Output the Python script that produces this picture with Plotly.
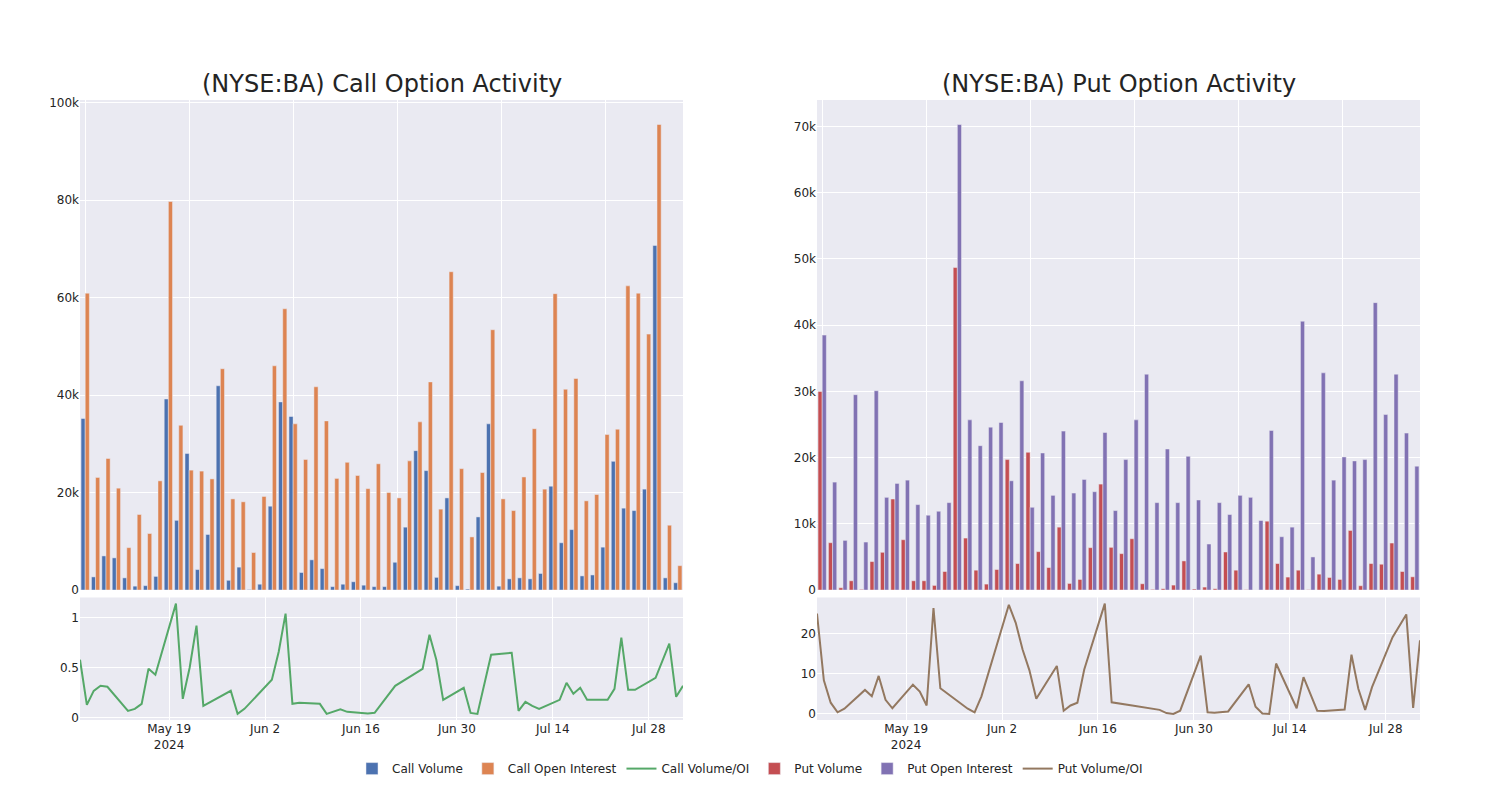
import plotly.graph_objects as go
from plotly.subplots import make_subplots

dates = [
    "2024-05-06", "2024-05-07", "2024-05-08", "2024-05-09", "2024-05-10",
    "2024-05-13", "2024-05-14", "2024-05-15", "2024-05-16", "2024-05-17",
    "2024-05-20", "2024-05-21", "2024-05-22", "2024-05-23", "2024-05-24",
    "2024-05-28", "2024-05-29", "2024-05-30",
    "2024-06-03", "2024-06-04", "2024-06-05", "2024-06-06", "2024-06-07",
    "2024-06-10", "2024-06-11", "2024-06-12", "2024-06-13", "2024-06-14",
    "2024-06-17", "2024-06-18", "2024-06-21",
    "2024-06-25", "2024-06-26", "2024-06-27", "2024-06-28",
    "2024-07-01", "2024-07-02", "2024-07-03", "2024-07-05",
    "2024-07-08", "2024-07-09", "2024-07-10", "2024-07-11", "2024-07-12",
    "2024-07-15", "2024-07-16", "2024-07-17", "2024-07-18", "2024-07-19",
    "2024-07-22", "2024-07-23", "2024-07-24", "2024-07-25", "2024-07-26",
    "2024-07-29", "2024-07-31", "2024-08-01", "2024-08-02",
]

call_volume = [
    35200, 2700, 7000, 6600, 2500, 800, 900, 2800, 39200, 14300,
    28000, 4200, 11400, 41900, 2000, 4700, 100, 1200, 17200, 38600,
    35600, 3600, 6200, 4400, 700, 1200, 1700, 1000, 700, 700,
    5700, 12900, 28600, 24500, 2600, 18900, 900, 200, 15000, 34100,
    800, 2300, 2500, 2300, 3400, 21300, 9700, 12400, 2900, 3100,
    8800, 26400, 16800, 16300, 20700, 70700, 2500, 1500,
]
call_oi = [
    60900, 23100, 27000, 20900, 8700, 15500, 11600, 22400, 79700, 33800,
    24600, 24400, 22800, 45400, 18700, 18100, 7700, 19200, 46000, 57700,
    34100, 26800, 41700, 34700, 22900, 26200, 23500, 20800, 25900, 20000,
    18900, 26500, 34500, 42700, 16600, 65300, 24900, 10900, 24100, 53400,
    18700, 16300, 23200, 33100, 20700, 60800, 41200, 43400, 18300, 19600,
    31900, 33000, 62400, 60900, 52500, 95500, 13300, 5000,
]
call_ratio = [
    0.58, 0.13, 0.27, 0.32, 0.31, 0.07, 0.09, 0.14, 0.49, 0.43,
    1.14, 0.19, 0.50, 0.92, 0.12, 0.27, 0.04, 0.09, 0.38, 0.66,
    1.04, 0.14, 0.15, 0.14, 0.04, 0.06, 0.085, 0.06, 0.045, 0.05,
    0.32, 0.49, 0.83, 0.58, 0.18, 0.30, 0.05, 0.04, 0.63, 0.65,
    0.07, 0.16, 0.12, 0.09, 0.18, 0.35, 0.24, 0.30, 0.18, 0.18,
    0.29, 0.80, 0.28, 0.28, 0.40, 0.74, 0.21, 0.32,
]
put_volume = [
    30000, 7150, 350, 1400, 100, 4300, 5700, 13750, 7600, 1400,
    1400, 700, 2800, 48700, 7850, 3000, 900, 3100, 19700, 4000,
    20800, 5800, 3400, 9500, 1000, 1600, 6400, 16000, 6450, 5500,
    7750, 950, 100, 200, 750, 4400, 150, 450, 200, 5750,
    3000, 50, 0, 10400, 4000, 1960, 3000, 50, 2400, 1900,
    1600, 9000, 650, 4000, 3900, 7100, 2800, 2000,
]
put_oi = [
    38500, 16300, 7500, 29500, 7250, 30100, 14000, 16100, 16600, 12900,
    11300, 11900, 13200, 70300, 25700, 21800, 24600, 25300, 16500, 31600,
    12500, 20700, 14300, 24000, 14650, 16700, 14850, 23800, 12000, 19700,
    25700, 32600, 13200, 21300, 13200, 20200, 13600, 6950, 13200, 11400,
    14300, 14000, 10500, 24100, 8050, 9500, 40600, 5000, 32800, 16600,
    20100, 19500, 19700, 43400, 26500, 32600, 23700, 18700,
]
put_ratio = [
    25.1, 8.4, 2.8, 0.4, 1.3, 6.0, 4.4, 9.5, 3.5, 1.4,
    7.3, 5.6, 2.1, 26.5, 6.4, 1.3, 0.4, 4.4, 27.3, 22.8,
    16.1, 10.9, 3.8, 12.0, 0.8, 2.1, 2.8, 11.1, 27.6, 2.9,
    2.1, 1.0, 0.2, 0.0, 0.8, 14.6, 0.4, 0.3, 0.6, 7.4,
    1.8, 0.1, 0.0, 12.6, 1.4, 9.2, 5.0, 0.8, 0.7, 1.1,
    14.8, 6.3, 1.0, 6.7, 19.2, 24.9, 1.5, 18.4,
]

titles = ["(NYSE:BA) Call Option Activity", "(NYSE:BA) Put Option Activity"]

fig = make_subplots(
    rows=2, cols=2,
    row_heights=[0.8, 0.2],
    vertical_spacing=0.012,
    horizontal_spacing=0.1,
    subplot_titles=[titles[0], titles[1], "", ""],
)

fig.add_trace(go.Bar(x=dates, y=call_volume, name="Call Volume"), row=1, col=1)
fig.add_trace(go.Bar(x=dates, y=call_oi, name="Call Open Interest"), row=1, col=1)
fig.add_trace(go.Scatter(x=dates, y=call_ratio, mode="lines", name="Call Volume/OI"), row=2, col=1)
fig.add_trace(go.Bar(x=dates, y=put_volume, name="Put Volume"), row=1, col=2)
fig.add_trace(go.Bar(x=dates, y=put_oi, name="Put Open Interest"), row=1, col=2)
fig.add_trace(go.Scatter(x=dates, y=put_ratio, mode="lines", name="Put Volume/OI"), row=2, col=2)

fig.update_layout(
    template="seaborn",
    width=1500,
    height=800,
    font=dict(family="DejaVu Sans"),
    margin=dict(l=72, r=88, t=92, b=88),
    barmode="group",
    legend=dict(orientation="h", x=0.5, xanchor="center", y=-0.055, yanchor="top"),
)

for ann in fig.layout.annotations:
    ann.font.size = 24

for c in (1, 2):
    fig.update_xaxes(type="category", showticklabels=False, tickmode="linear",
                     tick0=0, dtick=10, row=1, col=c)
    fig.update_xaxes(type="date", row=2, col=c)

fig.write_html("out.html")
